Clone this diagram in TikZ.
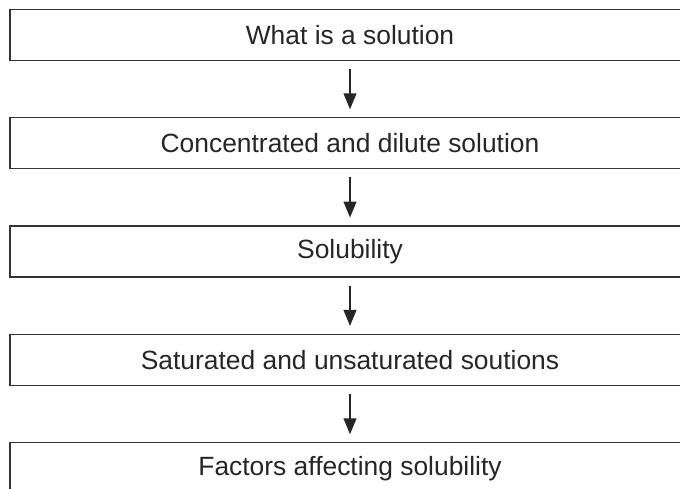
\documentclass[tikz,border=0pt]{standalone}
\usepackage{fontspec}
\setmainfont{Liberation Sans}
\usepackage{tikz}
\usetikzlibrary{arrows.meta}

\begin{document}
\begin{tikzpicture}[x=1pt,y=1pt,
    topic/.style={draw=black!80, line width=1.3pt, minimum width=680pt,
      minimum height=51pt, inner sep=0pt, text=black!85,
      font=\fontsize{26.4}{30}\selectfont},
    flow/.style={-{Triangle[length=16pt,width=12.7pt]}, line width=2pt,
      draw=black!85, shorten <=8pt, shorten >=7.7pt}]
    \useasboundingbox (0,0) rectangle (680,489);

    \node[topic] (what) at (350,454.2) {What is a solution};
    \node[topic] (conc) at (350,345.8) {Concentrated and dilute solution};
    \node[topic] (solub) at (350,237.5) {Solubility};
    \node[topic] (sat) at (350,129.2) {Saturated and unsaturated soutions};
    \node[topic] (fact) at (350,20.8) {Factors affecting solubility};

    \draw[flow] (what) -- (conc);
    \draw[flow] (conc) -- (solub);
    \draw[flow] (solub) -- (sat);
    \draw[flow] (sat) -- (fact);
    % \draw[flow] (fact) -- ++(0,-40);
\end{tikzpicture}
\end{document}
